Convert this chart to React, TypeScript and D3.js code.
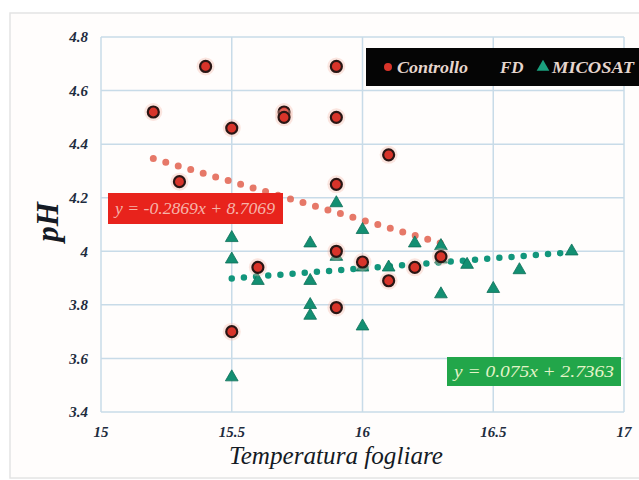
import React from "react";
import * as d3 from "d3";

const controlloX = [15.2, 15.4, 15.5, 15.7, 15.7, 15.9, 15.9, 16.1, 15.9, 15.3, 15.6, 15.9, 16.0, 15.9, 15.5, 16.1, 16.2, 16.3];
const controlloY = [4.52, 4.69, 4.46, 4.52, 4.5, 4.69, 4.5, 4.36, 4.25, 4.26, 3.94, 4.0, 3.96, 3.79, 3.7, 3.89, 3.94, 3.98];
const fdX = [16.4];
const fdY = [4.07];
const micosatX = [15.5, 15.5, 15.5, 15.6, 15.8, 15.8, 15.8, 15.8, 15.9, 15.9, 16.0, 16.0, 16.0, 16.1, 16.2, 16.3, 16.3, 16.3, 16.4, 16.5, 16.6, 16.8];
const micosatY = [4.05, 3.97, 3.53, 3.89, 4.03, 3.89, 3.8, 3.76, 4.18, 3.98, 4.08, 3.94, 3.72, 3.94, 4.03, 4.02, 3.97, 3.84, 3.95, 3.86, 3.93, 4.0];
const xTicks = [15, 15.5, 16, 16.5, 17];
const xTickLabels = ["15", "15.5", "16", "16.5", "17"];
const yTicks = [3.4, 3.6, 3.8, 4, 4.2, 4.4, 4.6, 4.8];
const yTickLabels = ["3.4", "3.6", "3.8", "4", "4.2", "4.4", "4.6", "4.8"];
const redTrend = { slope: -0.2869, intercept: 8.7069, x0: 15.2, x1: 16.3, label: "y = -0.2869x + 8.7069" };
const greenTrend = { slope: 0.075, intercept: 2.7363, x0: 15.5, x1: 16.8, label: "y = 0.075x + 2.7363" };

const serif = "Liberation Serif, DejaVu Serif, serif";

export default function App() {
  const x = d3.scaleLinear().domain([15, 17]).range([101, 624]);
  const y = d3.scaleLinear().domain([3.4, 4.8]).range([412, 37]);
  const trendPath = (t: typeof redTrend) =>
    d3.line<number>().x((d) => x(d)).y((d) => y(t.slope * d + t.intercept))([t.x0, t.x1]) || "";
  const tri = d3.symbol().type(d3.symbolTriangle).size(70)() || "";
  const cross = d3.symbol().type(d3.symbolX).size(90)() || "";
  const tf = { fontFamily: serif, fontStyle: "italic" as const };

  return (
    <svg width={639} height={480} style={{ position: "absolute", left: 0, top: 0, background: "#fff" }}>
      <rect x={10} y={13} width={640} height={465} fill="#fffdfc" stroke="#e4e4e4" strokeWidth={1.5} />
      {/* grid */}
      {yTicks.map((t) => (
        <line key={"gy" + t} x1={x(15)} x2={x(17)} y1={y(t)} y2={y(t)} stroke="#c8dbe8" strokeWidth={1.5} />
      ))}
      {xTicks.map((t) => (
        <line key={"gx" + t} x1={x(t)} x2={x(t)} y1={y(3.4)} y2={y(4.8)} stroke="#c8dbe8" strokeWidth={1.5} />
      ))}
      {/* tick labels */}
      {yTicks.map((t, i) => (
        <text key={"ty" + t} x={88} y={y(t)} dy="0.35em" textAnchor="end" style={{ ...tf, fontWeight: "bold", fontSize: 15 }} fill="#1e2c3e">
          {yTickLabels[i]}
        </text>
      ))}
      {xTicks.map((t, i) => (
        <text key={"tx" + t} x={x(t)} y={437} textAnchor="middle" style={{ ...tf, fontWeight: "bold", fontSize: 15 }} fill="#1e2c3e">
          {xTickLabels[i]}
        </text>
      ))}
      {/* axis titles */}
      <text transform="translate(58,222) rotate(-90)" textAnchor="middle" style={{ ...tf, fontWeight: "bold", fontSize: 31 }} fill="#141a24">
        pH
      </text>
      <text x={336} y={464} textAnchor="middle" style={{ ...tf, fontSize: 26 }} fill="#141a24" textLength={214} lengthAdjust="spacingAndGlyphs">
        Temperatura fogliare
      </text>
      {/* trend lines */}
      <path d={trendPath(redTrend)} stroke="#e2604e" strokeOpacity={0.85} strokeWidth={7} strokeLinecap="round" strokeDasharray="0 13" fill="none" />
      <path d={trendPath(greenTrend)} stroke="#12967c" strokeWidth={6.5} strokeLinecap="round" strokeDasharray="0 12.2" fill="none" />
      {/* micosat */}
      {micosatX.map((v, i) => (
        <path key={"m" + i} d={tri} transform={`translate(${x(v)},${y(micosatY[i])})`} fill="#138f72" stroke="#0e6f58" strokeWidth={0.8} />
      ))}
      {/* controllo */}
      {controlloX.map((v, i) => (
        <g key={"c" + i}>
          <circle cx={x(v)} cy={y(controlloY[i])} r={9} fill="#f4b8a8" opacity={0.35} />
          <circle cx={x(v)} cy={y(controlloY[i])} r={5.5} fill="#d8342a" stroke="#2a1614" strokeWidth={2.2} />
        </g>
      ))}
      {/* fd */}
      {fdX.map((v, i) => (
        <path key={"f" + i} d={cross} transform={`translate(${x(v)},${y(fdY[i])})`} fill="#dcbcac" />
      ))}
      {/* equation labels */}
      <rect x={108} y={193} width={175} height={31} fill="#e8231c" />
      <text x={195} y={214} textAnchor="middle" style={{ ...tf, fontSize: 16 }} fill="#f6b4aa" textLength={160} lengthAdjust="spacingAndGlyphs">
        {redTrend.label}
      </text>
      <rect x={447} y={357} width={174} height={29} fill="#22a64a" />
      <text x={534} y={377} textAnchor="middle" style={{ ...tf, fontSize: 16 }} fill="#e4f4c8" textLength={160} lengthAdjust="spacingAndGlyphs">
        {greenTrend.label}
      </text>
      {/* legend */}
      <rect x={366} y={48} width={280} height={38} fill="#050505" />
      <circle cx={388} cy={67} r={4} fill="#d8342a" />
      <text x={397} y={73} style={{ ...tf, fontWeight: "bold", fontSize: 17 }} fill="#e6d6ce" textLength={71} lengthAdjust="spacingAndGlyphs">
        Controllo
      </text>
      <path d={cross} transform="translate(490,67) scale(0.8)" fill="#5e463e" />
      <text x={500} y={73} style={{ ...tf, fontWeight: "bold", fontSize: 17 }} fill="#e6d6ce">
        FD
      </text>
      <path d={tri} transform="translate(543,67)" fill="#1aa07e" />
      <text x={552} y={73} style={{ ...tf, fontWeight: "bold", fontSize: 17 }} fill="#e6d6ce" textLength={82} lengthAdjust="spacingAndGlyphs">
        MICOSAT
      </text>
    </svg>
  );
}
